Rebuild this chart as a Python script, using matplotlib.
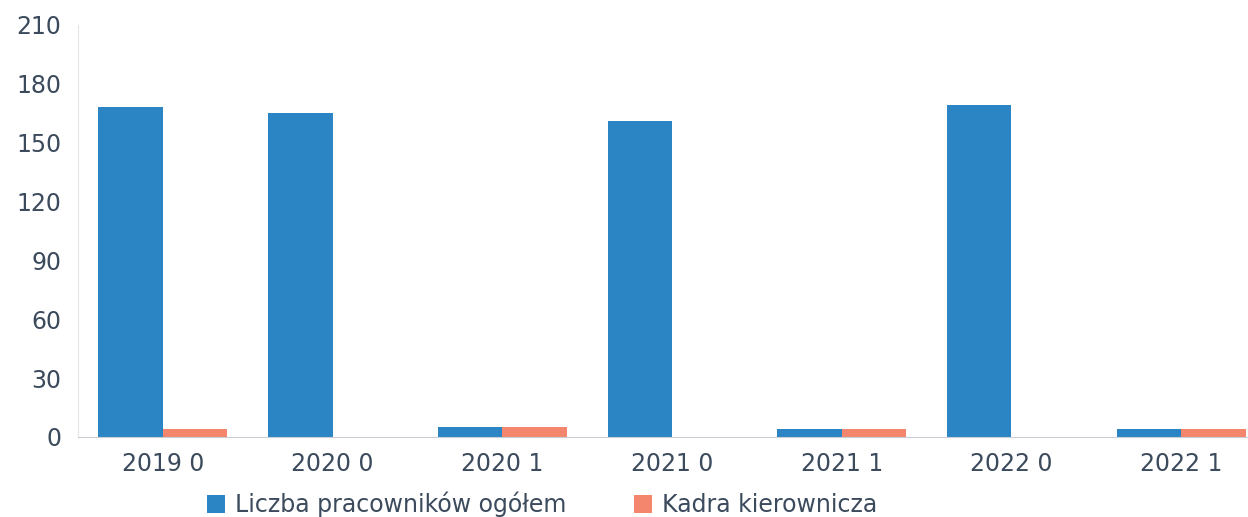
import matplotlib
matplotlib.use('Agg')
import matplotlib.pyplot as plt
import numpy as np

# data
categories = ['2019 0', '2020 0', '2020 1', '2021 0', '2021 1', '2022 0', '2022 1']
pracownicy = [168, 165, 5, 161, 4, 169, 4]
kadra = [4, 0, 5, 0, 4, 0, 4]

plt.rcParams['font.family'] = ['DejaVu Sans']
text_color = '#3b4a5c'
blue = '#2b84c4'
orange = '#f3866c'
fs = 17

fig = plt.figure(figsize=(12.48, 5.17), dpi=100)
ax = fig.add_axes([78 / 1248, 80 / 517, 1188 / 1248, 412 / 517])

x = np.arange(len(categories))
w = 0.38
ax.bar(x - w / 2, pracownicy, w, color=blue, label='Liczba pracowników ogółem')
ax.bar(x + w / 2, kadra, w, color=orange, label='Kadra kierownicza')

ax.set_xlim(-0.5, len(categories) - 0.5)
ax.set_ylim(0, 210)
ax.set_yticks(np.arange(0, 211, 30))
ax.set_xticks(x)
ax.set_xticklabels(categories)
ax.tick_params(axis='both', length=0, labelsize=fs, colors=text_color)
ax.tick_params(axis='y', pad=12)
ax.tick_params(axis='x', pad=11)

for s in ['top', 'right']:
    ax.spines[s].set_visible(False)
ax.spines['left'].set_color('#e4e6ea')
ax.spines['bottom'].set_color('#c9ced6')

fig.legend(loc='lower left', bbox_to_anchor=(205 / 1248, -0.005), ncol=2,
           frameon=False, fontsize=fs, labelcolor=text_color,
           borderpad=0.1, borderaxespad=0.0,
           handlelength=0.75, handleheight=0.75, columnspacing=2.9, handletextpad=0.4)

fig.savefig('out.png', dpi=100)
